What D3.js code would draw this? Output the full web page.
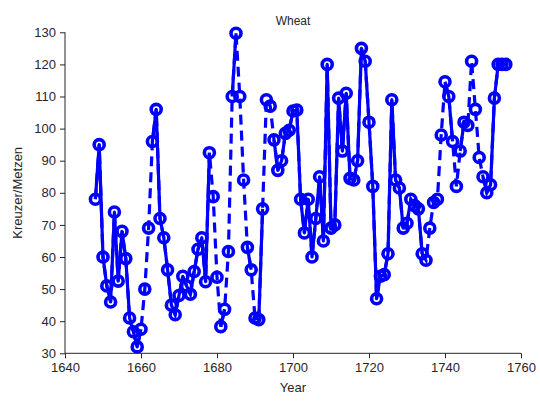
<!DOCTYPE html>
<html>
<head>
<meta charset="utf-8">
<script src="https://cdn.jsdelivr.net/npm/d3@7"></script>
<style>
  html, body { margin: 0; padding: 0; background: #fff; }
  svg { display: block; }
  text { font-family: "Liberation Sans", Arial, Helvetica, sans-serif; fill: #262626; }
</style>
</head>
<body>
<svg id="chart" width="540" height="402"></svg>
<script>
// Annual wheat price series (Kreuzer per Metzen)
const years = [
  1648, 1649, 1650, 1651, 1652, 1653, 1654, 1655, 1656, 1657,
  1658, 1659, 1660, 1661, 1662, 1663, 1664, 1665, 1666, 1667,
  1668, 1669, 1670, 1671, 1672, 1673, 1674, 1675, 1676, 1677,
  1678, 1679, 1680, 1681, 1682, 1683, 1684, 1685, 1686, 1687,
  1688, 1689, 1690, 1691, 1692, 1693, 1694, 1695, 1696, 1697,
  1698, 1699, 1700, 1701, 1702, 1703, 1704, 1705, 1706, 1707,
  1708, 1709, 1710, 1711, 1712, 1713, 1714, 1715, 1716, 1717,
  1718, 1719, 1720, 1721, 1722, 1723, 1724, 1725, 1726, 1727,
  1728, 1729, 1730, 1731, 1732, 1733, 1734, 1735, 1736, 1737,
  1738, 1739, 1740, 1741, 1742, 1743, 1744, 1745, 1746, 1747,
  1748, 1749, 1750, 1751, 1752, 1753, 1754, 1755, 1756
];
const prices = [
  78, 95, 60, 51, 46, 74, 52.5, 68, 59.5, 41,
  36.7, 32, 37.5, 50, 69, 96, 106, 72, 66, 56,
  45, 42, 48, 54, 51, 48.4, 55.5, 62.4, 66, 52.3,
  92.5, 78.8, 53.7, 38.3, 43.7, 61.7, 110, 129.7, 110, 84,
  63, 56, 41, 40.5, 75, 109, 107, 96.5, 87, 90,
  98.5, 99.5, 105.5, 105.8, 78, 67.5, 78, 60, 72, 85,
  65, 120, 69, 70, 109.5, 93, 111, 84.5, 84, 90,
  125, 121, 102, 82, 47, 54, 54.5, 61, 109, 84,
  81.5, 69, 70.5, 78, 76, 75, 61, 59, 69, 77,
  78, 98, 114.6, 110, 96, 82, 93, 102, 101, 121,
  106, 91, 85, 80, 82.5, 109.5, 120, 120, 120
];
// Years whose link to the following year is drawn dashed
const dashedFrom = [
  1660, 1661, 1662, 1678, 1679, 1680, 1682, 1683, 1685, 1686,
  1687, 1689, 1692, 1693, 1694, 1734, 1735, 1736, 1738, 1739,
  1742, 1743, 1746, 1747, 1748, 1749
];
const xTicks = [1640, 1660, 1680, 1700, 1720, 1740, 1760];
const yTicks = [30, 40, 50, 60, 70, 80, 90, 100, 110, 120, 130];

const svg = d3.select("#chart");
const margin = { left: 65, top: 32.3, right: 19, bottom: 48.7 };
const W = 540, H = 402;

const x = d3.scaleLinear().domain([1640, 1760]).range([margin.left, W - margin.right]);
const y = d3.scaleLinear().domain([30, 130]).range([H - margin.bottom, margin.top]);

const pts = years.map((yr, i) => ({ year: yr, price: prices[i] }));
const line = d3.line().x(d => x(d.year)).y(d => y(d.price));

// split into solid runs; dashed links bridge them
const dashSet = new Set(dashedFrom);
const runs = [];
let cur = [pts[0]];
for (let i = 1; i < pts.length; i++) {
  if (dashSet.has(pts[i - 1].year)) {
    runs.push(cur);
    cur = [pts[i]];
  } else {
    cur.push(pts[i]);
  }
}
runs.push(cur);

const blue = "#0000ff";
const plot = svg.append("g");

// dashed line through every point
plot.append("path")
  .datum(pts)
  .attr("d", line)
  .attr("fill", "none")
  .attr("stroke", blue)
  .attr("stroke-width", 3.2)
  .attr("stroke-dasharray", "10,6");

// solid runs
plot.selectAll("path.run")
  .data(runs.filter(r => r.length > 1))
  .join("path")
  .attr("class", "run")
  .attr("d", line)
  .attr("fill", "none")
  .attr("stroke", blue)
  .attr("stroke-width", 3.2)
  .attr("stroke-linejoin", "round");

// circle markers
plot.selectAll("circle")
  .data(pts)
  .join("circle")
  .attr("cx", d => x(d.year))
  .attr("cy", d => y(d.price))
  .attr("r", 5)
  .attr("fill", "none")
  .attr("stroke", blue)
  .attr("stroke-width", 3.6);

// axes
const xAxis = d3.axisBottom(x).tickValues(xTicks).tickFormat(d3.format("d")).tickSizeOuter(0).tickSize(5).tickPadding(4);
const yAxis = d3.axisLeft(y).tickValues(yTicks).tickSizeOuter(0).tickSize(5).tickPadding(4);

const gx = svg.append("g").attr("transform", `translate(0,${H - margin.bottom})`).call(xAxis);
const gy = svg.append("g").attr("transform", `translate(${margin.left},0)`).call(yAxis);
[gx, gy].forEach(g => {
  g.select(".domain").attr("stroke", "#262626").attr("stroke-width", 1);
  g.selectAll(".tick line").attr("stroke", "#262626");
  g.selectAll(".tick text").attr("font-size", 13).attr("fill", "#262626")
    .attr("font-family", '"Liberation Sans", Arial, sans-serif');
});
gx.select(".domain").attr("d", `M${x(1640)},0H${x(1760)}`);
gy.select(".domain").attr("d", `M0,${y(30)}V${y(130)}`);

// labels
svg.append("text").attr("x", (x(1640) + x(1760)) / 2).attr("y", 25)
  .attr("text-anchor", "middle").attr("font-size", 12).text("Wheat");
svg.append("text").attr("x", (x(1640) + x(1760)) / 2).attr("y", 392)
  .attr("text-anchor", "middle").attr("font-size", 13).text("Year");
svg.append("text").attr("transform", `translate(22,${(y(30) + y(130)) / 2}) rotate(-90)`)
  .attr("text-anchor", "middle").attr("font-size", 13).text("Kreuzer/Metzen");
</script>
</body>
</html>
